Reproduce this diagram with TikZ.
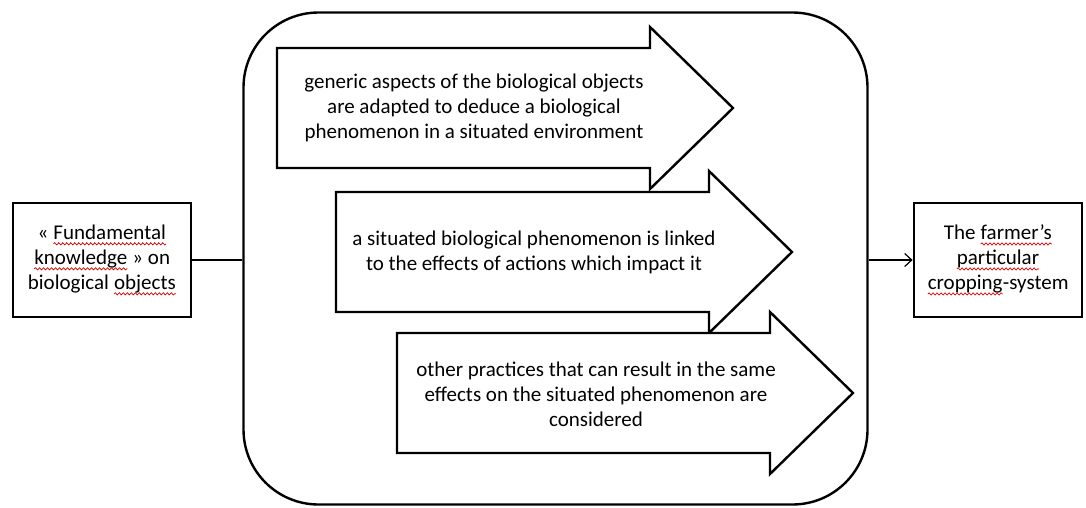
\documentclass[tikz,border=0pt]{standalone}
\usepackage{fontspec}
\setmainfont{Carlito}
\usetikzlibrary{arrows.meta,decorations.pathmorphing}
\newcommand\redwave[1]{\tikz[baseline=(w.base)]{\node[draw=none, minimum width=0pt, minimum height=0pt,
    inner sep=0pt, outer sep=0pt] (w) {#1};
  \draw[red!85!black, line width=0.7pt, decorate, decoration={snake, amplitude=1.1pt, segment length=4pt}]
    ([yshift=-4.5pt]w.base west) -- ([yshift=-4.5pt]w.base east);}}
\begin{document}
\begin{tikzpicture}[x=1pt,y=-1pt,
    every node/.style={font=\fontsize{21}{25}\selectfont, align=center},
    sidebox/.style={draw, line width=2.8pt, minimum height=114pt, inner sep=0pt},
    stage/.style={draw, line width=2.4pt, fill=white, line join=miter},
    link/.style={line width=1.2pt}]
  \useasboundingbox (0,0) rectangle (1086,507);
  % outer frame and the two end boxes
  \node[draw, line width=2.4pt, rounded corners=75pt, minimum width=624pt,
        minimum height=492pt] (core) at (555.5,258.5) {};
  \node[sidebox, minimum width=178pt] (knowledge) at (102,260)
    {« \redwave{Fundamental}\\ \redwave{knowledge} » on\\ biological \redwave{objects}};
  \node[sidebox, minimum width=168pt] (system) at (998,260)
    {The \redwave{farmer’s}\\ \redwave{particular}\\ \redwave{cropping}-system};
  % three stage arrows
  \foreach \x/\y in {277/48, 336/192, 397/333}
    \draw[stage] (\x,\y) -- ++(373,0) -- ++(0,-21) -- ++(83,81) -- ++(-83,81)
      -- ++(0,-21) -- ++(-373,0) -- cycle;
  \node (generic) at (474,108) {generic aspects of the biological objects\\
    are adapted to deduce a biological\\ phenomenon in a situated environment};
  \node (situated) at (534,252) {a situated biological phenomenon is linked\\
    to the effects of actions which impact it};
  \node (practices) at (596,394) {other practices that can result in the same\\
    effects on the situated phenomenon are\\ considered};
  % connectors
  \draw[link] (knowledge.east) -- (knowledge.east -| core.west);
  \draw[link, -{Straight Barb[length=7pt,width=13pt]}] (core.east |- system.west) -- (system.west);
\end{tikzpicture}
\end{document}
